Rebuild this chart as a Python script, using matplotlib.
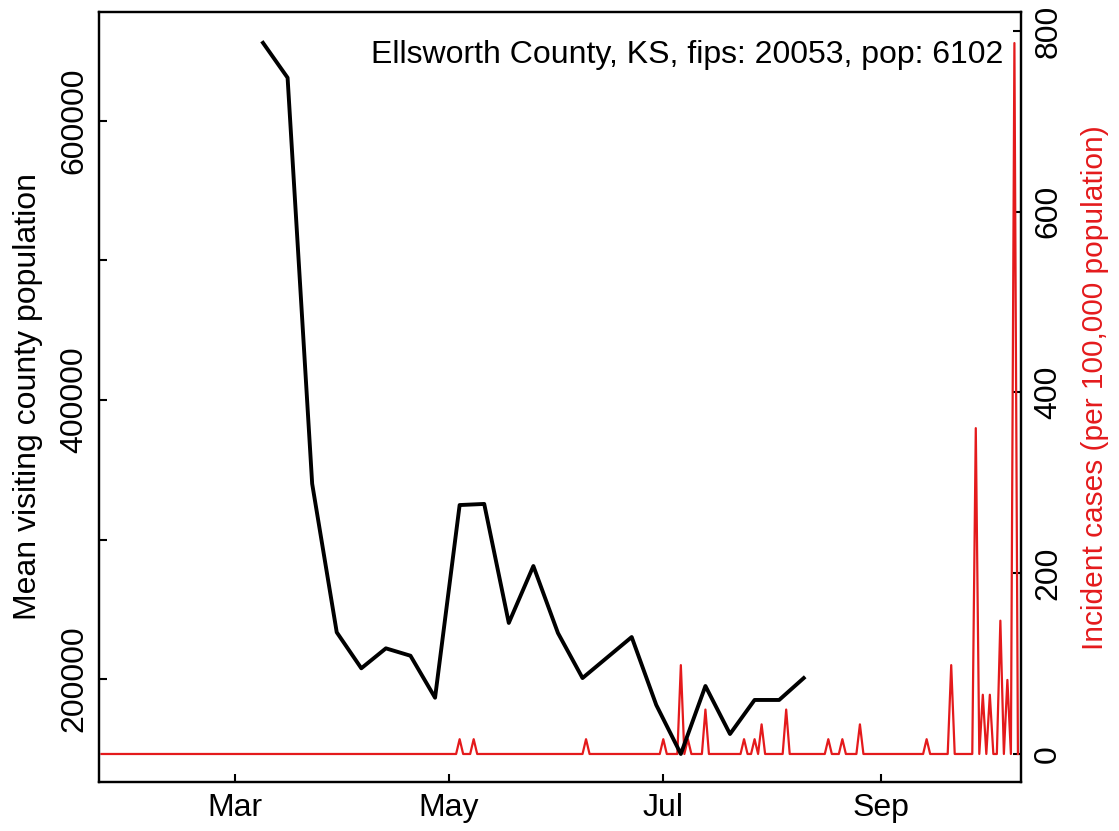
import datetime as dt
import numpy as np
import pandas as pd
import matplotlib
matplotlib.use("Agg")
import matplotlib.pyplot as plt
import matplotlib.dates as mdates

plt.rcParams["font.family"] = ["Liberation Sans", "DejaVu Sans"]

# weekly mean visiting county population (black line)
visit_dates = ["2020-03-09", "2020-03-16", "2020-03-23", "2020-03-30", "2020-04-06",
               "2020-04-13", "2020-04-20", "2020-04-27", "2020-05-04", "2020-05-11",
               "2020-05-18", "2020-05-25", "2020-06-01", "2020-06-08", "2020-06-22",
               "2020-06-29", "2020-07-06", "2020-07-13", "2020-07-20", "2020-07-27",
               "2020-08-03", "2020-08-10"]
visit_pop = [656000, 631000, 340000, 233500, 207700, 222000, 216700, 186600, 324700, 325500,
             240200, 281000, 233000, 200700, 230100, 181400, 146300, 195000, 160600, 185000,
             185000, 200700]

# daily incident cases (red line), zero on all other days
case_start = "2020-01-23"
case_end = "2020-10-10"
case_dates = ["2020-05-04", "2020-05-08", "2020-06-09", "2020-07-01", "2020-07-06",
              "2020-07-08", "2020-07-13", "2020-07-24", "2020-07-27", "2020-07-29",
              "2020-08-05", "2020-08-17", "2020-08-21", "2020-08-26", "2020-09-14",
              "2020-09-21", "2020-09-28", "2020-09-30", "2020-10-02", "2020-10-05",
              "2020-10-07", "2020-10-09"]
case_counts = [1, 1, 1, 1, 6, 1, 3, 1, 1, 2, 3, 1, 1, 2, 1, 6, 22, 4, 4, 9, 5, 48]
pop = 6102

days = pd.date_range(case_start, case_end, freq="D")
cases = pd.Series(0.0, index=days)
cases[pd.to_datetime(case_dates)] = case_counts
cases = cases / pop * 1e5

fig = plt.figure(figsize=(11.19, 8.31), dpi=100)
W, H = 1119, 831
ax = fig.add_axes([99 / W, 1 - 782 / H, (1020.7 - 99) / W, (782 - 12) / H])
ax2 = ax.twinx()

red = "#E41A1C"
ax2.plot(cases.index, cases.values, color=red, lw=1.6)
ax.plot(pd.to_datetime(visit_dates), visit_pop, color="black", lw=2.8)

# black line above the red one
ax.set_zorder(ax2.get_zorder() + 1)
ax.patch.set_visible(False)

x0 = mdates.date2num(dt.datetime(2020, 1, 22, 7))
x1 = mdates.date2num(dt.datetime(2020, 10, 10, 19))
ax.set_xlim(x0, x1)
ax.set_ylim(126200, 678100)
ax2.set_ylim(-31, 821)

ax.set_xticks([mdates.date2num(dt.datetime(2020, m, 1)) for m in (3, 5, 7, 9)])
ax.set_xticklabels(["Mar", "May", "Jul", "Sep"])
ax.set_yticks([200000, 300000, 400000, 500000, 600000])
ax.set_yticklabels(["200000", "", "400000", "", "600000"], rotation=90, va="center")
ax2.set_yticks([0, 200, 400, 600, 800])
ax2.set_yticklabels(["0", "200", "400", "600", "800"], rotation=90, va="center")

fs = 23
for a in (ax, ax2):
    a.tick_params(direction="in", length=6, width=1.5, labelsize=fs)
    for s in a.spines.values():
        s.set_linewidth(1.6)
ax.tick_params(axis="x", pad=8)
ax.tick_params(axis="y", pad=7)
ax2.tick_params(axis="y", pad=9)

ax.set_ylabel("Mean visiting county population", fontsize=fs, labelpad=12)
ax2.set_ylabel("Incident cases (per 100,000 population)", fontsize=21.5, color=red, labelpad=13)
ax2.yaxis.label.set_y(0.512)

ax.text(0.981, 0.944, "Ellsworth County, KS, fips: 20053, pop: 6102", transform=ax.transAxes,
        ha="right", va="center", fontsize=fs)

fig.savefig("out.png", dpi=100)
